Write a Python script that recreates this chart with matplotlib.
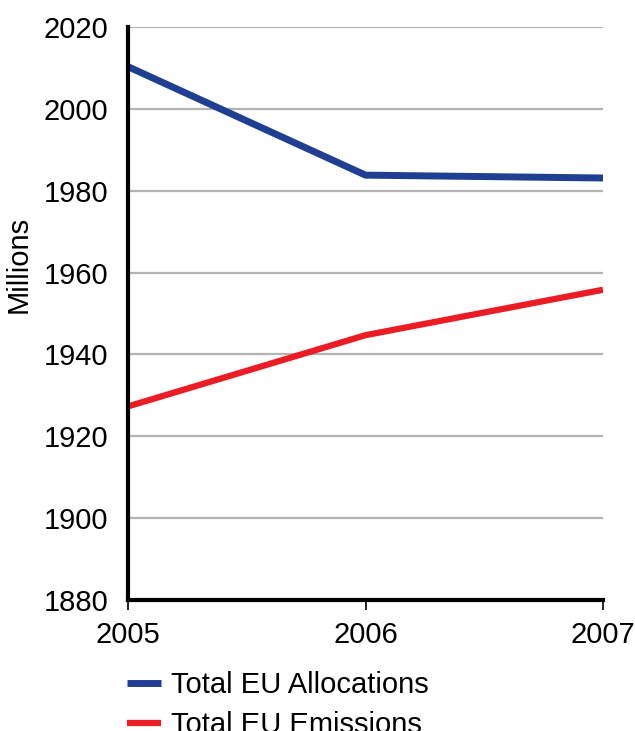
import matplotlib
matplotlib.use("Agg")
import matplotlib.pyplot as plt

# EU ETS totals, millions of tonnes
years = [2005, 2006, 2007]
allocations = [2010.3, 1983.8, 1983.1]
emissions = [1927.3, 1944.7, 1955.8]
yticks = [1880, 1900, 1920, 1940, 1960, 1980, 2000, 2020]

plt.rcParams['font.family'] = ['Liberation Sans', 'DejaVu Sans']

fig = plt.figure(figsize=(6.35, 7.31), dpi=100)
ax = fig.add_axes([0.2016, 0.1792, 0.748, 0.7839])

l1, = ax.plot(years, allocations, color='#1f3f93', lw=5, solid_capstyle='butt',
              label='Total EU Allocations', zorder=3)
l2, = ax.plot(years, emissions, color='#ec1c24', lw=4.5, solid_capstyle='butt',
              label='Total EU Emissions', zorder=3)

ax.set_xlim(2005, 2007)
ax.set_ylim(1880, 2020)
ax.set_yticks(yticks)
ax.set_xticks(years)
ax.yaxis.grid(True, color='#b3b3b3', lw=1.6)
ax.set_axisbelow(True)

for s in ['top', 'right']:
    ax.spines[s].set_visible(False)
for s in ['left', 'bottom']:
    ax.spines[s].set_linewidth(3)
    ax.spines[s].set_zorder(4)

ax.tick_params(axis='y', length=0, labelsize=21, pad=14)
ax.tick_params(axis='x', length=7, width=1.2, labelsize=21, pad=8)
ax.set_ylabel('Millions', fontsize=21)
ax.yaxis.set_label_coords(-0.2, 0.586)

fig.legend(handles=[l1, l2], loc='upper left', bbox_to_anchor=(0.2, 0.0821),
           frameon=False, fontsize=21, handlelength=1.15, handletextpad=0.35,
           labelspacing=0.42, borderaxespad=0, borderpad=0)

fig.savefig('out.png', dpi=100)
